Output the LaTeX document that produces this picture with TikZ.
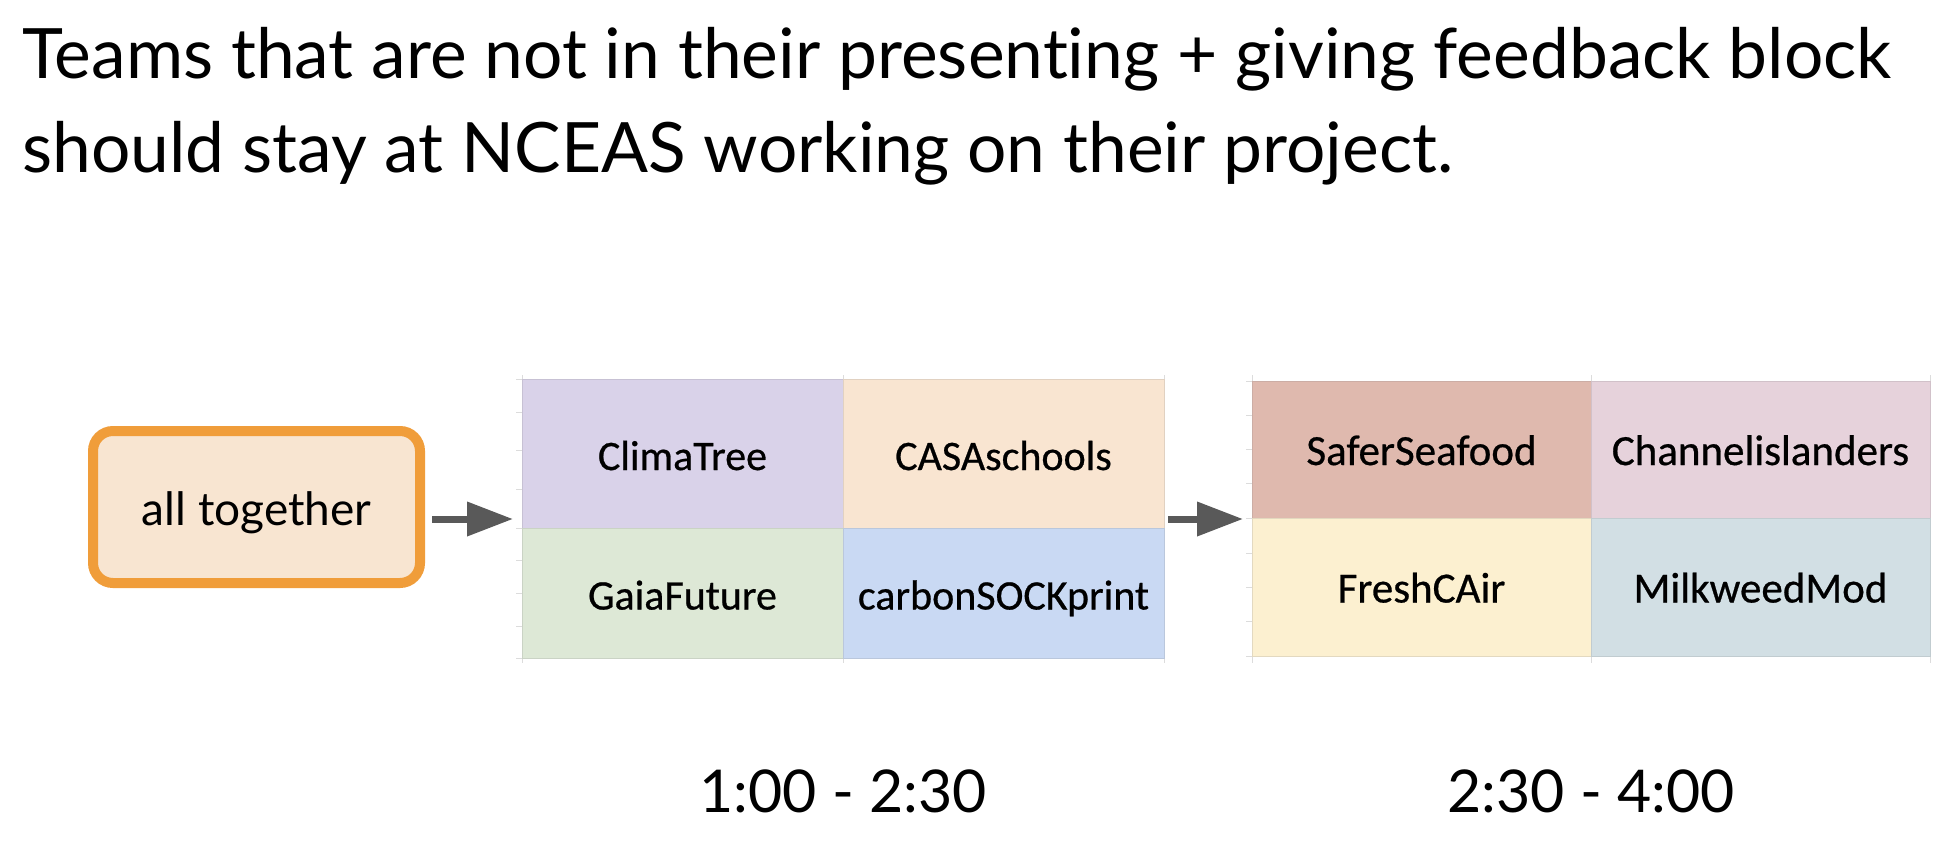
\documentclass[tikz,border=0pt]{standalone}
\usepackage{fontspec}
\setmainfont{Lato}[Ligatures=NoCommon]
\newfontfamily\calibrifont{Carlito}[FakeBold=0.6]
\usetikzlibrary{arrows.meta}
\definecolor{lav}{HTML}{D9D2E9}
\definecolor{peach}{HTML}{F9E5D1}
\definecolor{sage}{HTML}{DDE8D6}
\definecolor{sky}{HTML}{C9D9F3}
\definecolor{rose}{HTML}{DFB9AE}
\definecolor{pinkish}{HTML}{E6D2DB}
\definecolor{cream}{HTML}{FCF0D0}
\definecolor{mist}{HTML}{D2DFE4}
\definecolor{boxfill}{HTML}{F8E5D1}
\definecolor{boxline}{HTML}{F09D3A}
\definecolor{arrowgray}{HTML}{595959}
\definecolor{gridgray}{HTML}{DCDCDC}
\begin{document}
\begin{tikzpicture}[x=1pt,y=-1pt,
  cellA/.style={fill=#1, draw=#1!80!gray, line width=1pt, outer sep=0pt, inner sep=0pt,
    anchor=north west, font=\calibrifont\fontsize{42pt}{50pt}\selectfont,
    text height=33pt, text depth=0pt},
  cellB/.style={fill=#1, draw=#1!80!gray, line width=1pt, outer sep=0pt, inner sep=0pt,
    anchor=north west, font=\calibrifont\fontsize{43pt}{50pt}\selectfont,
    text height=31pt, text depth=0pt},
  grid/.style={draw=gridgray, line width=1pt},
  arr/.style={draw=arrowgray, line width=7pt, -{Triangle[length=46pt,width=33pt]}},
  titletext/.style={anchor=base west, inner sep=0pt, font=\fontsize{69.5pt}{85pt}\selectfont},
  timetext/.style={anchor=base, inner sep=0pt, font=\fontsize{59pt}{70pt}\selectfont}
]
\useasboundingbox (0,0) rectangle (1958,852);
\fill[white] (0,0) rectangle (1958,852);

% title
\node[titletext] (title1) at (22,78) {Teams that are not in their presenting + giving feedback block};
\node[titletext] (title2) at (22,172) {should stay at NCEAS working on their project.};

% start box
\node[draw=boxline, fill=boxfill, line width=10pt, rounded corners=20pt,
      minimum width=327pt, minimum height=152pt, inner sep=0pt, outer sep=5pt,
      font=\fontsize{46pt}{54pt}\selectfont, text height=37pt, text depth=0pt]
      (box) at (256.5,507) {all together};

% grid lines table 1
\foreach \gx in {522,843,1164} \draw[grid] (\gx,375) -- (\gx,663);
\foreach \gy in {379,412,450,489,528,560,593,626,658} \draw[grid] (516,\gy) -- (522,\gy);
\draw[grid] (516,379) -- (1164,379);
\draw[grid] (516,658) -- (1164,658);
% grid lines table 2
\foreach \gx in {1252,1591,1930} \draw[grid] (\gx,375) -- (\gx,663);
\foreach \gy in {381,415,449,483,518,553,587,621,656} \draw[grid] (1246,\gy) -- (1252,\gy);
\draw[grid] (1246,381) -- (1930,381);
\draw[grid] (1246,656) -- (1930,656);

% table 1
\node[cellA=lav,   minimum width=321pt, minimum height=149pt] (c1) at (522,379) {ClimaTree};
\node[cellA=peach, minimum width=321pt, minimum height=149pt] (c2) at (843,379) {CASAschools};
\node[cellA=sage,  minimum width=321pt, minimum height=130pt] (c3) at (522,528) {GaiaFuture};
\node[cellA=sky,   minimum width=321pt, minimum height=130pt] (c4) at (843,528) {carbonSOCKprint};

% table 2
\node[cellB=rose,    minimum width=339pt, minimum height=137pt] (d1) at (1252,381) {SaferSeafood};
\node[cellB=pinkish, minimum width=339pt, minimum height=137pt] (d2) at (1591,381) {Channelislanders};
\node[cellB=cream,   minimum width=339pt, minimum height=138pt] (d3) at (1252,518) {FreshCAir};
\node[cellB=mist,    minimum width=339pt, minimum height=138pt] (d4) at (1591,518) {MilkweedMod};

% arrows
\draw[arr] ([shift={(7,12)}]box.east) -- ([shift={(-9,-9)}]c1.south west);
\draw[arr] ([shift={(4,-9)}]c2.south east) -- ([shift={(-9,1)}]d1.south west);

% times
\node[timetext] (time1) at (843,812) {1:00 - 2:30};
\node[timetext] (time2) at (1591,812) {2:30 - 4:00};
\end{tikzpicture}
\end{document}
